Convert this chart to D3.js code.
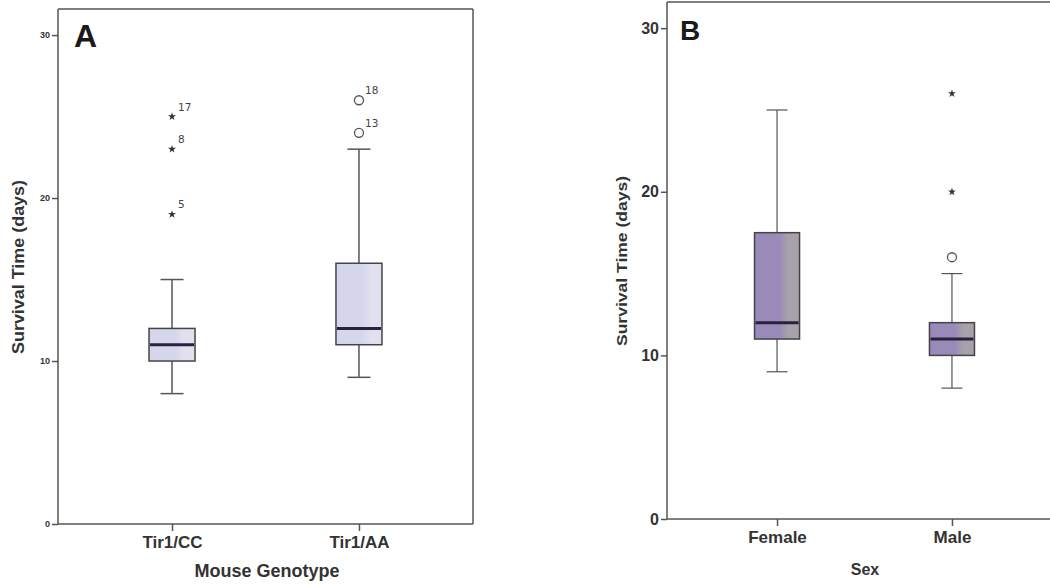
<!DOCTYPE html>
<html>
<head>
<meta charset="utf-8">
<script src="https://cdn.jsdelivr.net/npm/d3@7"></script>
<style>
  body { margin: 0; background: #fff; }
  svg { display: block; font-family: "Liberation Sans", Arial, sans-serif; }
</style>
</head>
<body>
<div id="chart"></div>
<script>
// Panel A: survival by mouse genotype
const genotypes = ["Tir1/CC", "Tir1/AA"];
const genoMin = [8, 9];
const genoQ1 = [10, 11];
const genoMedian = [11, 12];
const genoQ3 = [12, 16];
const genoMax = [15, 23];
const genoOutliers = [
    {cat: "Tir1/CC", value: 19, label: "5", kind: "star"},
    {cat: "Tir1/CC", value: 23, label: "8", kind: "star"},
    {cat: "Tir1/CC", value: 25, label: "17", kind: "star"},
    {cat: "Tir1/AA", value: 24, label: "13", kind: "circle"},
    {cat: "Tir1/AA", value: 26, label: "18", kind: "circle"}
];

// Panel B: survival by sex
const sexes = ["Female", "Male"];
const sexMin = [9, 8];
const sexQ1 = [11, 10];
const sexMedian = [12, 11];
const sexQ3 = [17.5, 12];
const sexMax = [25, 15];
const sexOutliers = [
    {cat: "Male", value: 16, label: "", kind: "circle"},
    {cat: "Male", value: 20, label: "", kind: "star"},
    {cat: "Male", value: 26, label: "", kind: "star"}
];

const yTicks = [0, 10, 20, 30];

const svg = d3.select("#chart")
    .append("svg")
    .attr("width", 1050)
    .attr("height", 585);

const defs = svg.append("defs");

function addGradient(id, left, right) {
    const g = defs.append("linearGradient")
        .attr("id", id)
        .attr("x1", "0%").attr("x2", "100%")
        .attr("y1", "0%").attr("y2", "0%");
    g.append("stop").attr("offset", "0%").attr("stop-color", left);
    g.append("stop").attr("offset", "55%").attr("stop-color", left);
    g.append("stop").attr("offset", "75%").attr("stop-color", right);
    g.append("stop").attr("offset", "100%").attr("stop-color", right);
}
addGradient("fillA", "#d5d5ec", "#e0e0ef");
addGradient("fillB", "#9a8aba", "#a6a1ab");

function drawPanel(p) {
    const g = svg.append("g");

    const y = d3.scaleLinear()
        .domain([0, 31.6])
        .range([p.bottom, p.top]);

    const x = d3.scalePoint()
        .domain(p.cats)
        .range([p.left, p.right])
        .padding(p.pad);

    const stats = p.cats.map((c, i) => ({
        cat: c, min: p.min[i], q1: p.q1[i], median: p.median[i], q3: p.q3[i], max: p.max[i]
    }));

    // frame
    const frame = g.append("g")
        .attr("stroke", "#555")
        .attr("stroke-width", 1.5)
        .attr("fill", "none");
    frame.append("line").attr("x1", p.left).attr("x2", p.left).attr("y1", p.top).attr("y2", p.bottom);
    frame.append("line").attr("x1", p.left).attr("x2", p.frameRight).attr("y1", p.top).attr("y2", p.top);
    frame.append("line").attr("x1", p.left).attr("x2", p.frameRight).attr("y1", p.bottom).attr("y2", p.bottom);
    if (p.closed) {
        frame.append("line").attr("x1", p.frameRight).attr("x2", p.frameRight).attr("y1", p.top).attr("y2", p.bottom);
    }

    // y axis
    const yAxis = g.append("g")
        .attr("transform", `translate(${p.left},0)`)
        .call(d3.axisLeft(y).tickValues(yTicks).tickSize(6).tickPadding(2));
    yAxis.select(".domain").remove();
    yAxis.selectAll("line").attr("stroke", "#555").attr("stroke-width", 1.5);
    yAxis.selectAll("text")
        .attr("fill", "#333")
        .style("font-size", p.tickFont + "px")
        .style("font-weight", "bold");

    // x axis
    const xAxis = g.append("g")
        .attr("transform", `translate(0,${p.bottom})`)
        .call(d3.axisBottom(x).tickSize(7).tickPadding(5));
    xAxis.select(".domain").remove();
    xAxis.selectAll("line").attr("stroke", "#555").attr("stroke-width", 1.5);
    xAxis.selectAll("text")
        .attr("fill", "#333")
        .style("font-size", p.catFont + "px")
        .style("font-weight", "bold");

    // whiskers
    const boxes = g.selectAll(".box")
        .data(stats)
        .enter().append("g")
        .attr("class", "box");

    boxes.append("line")
        .attr("x1", d => x(d.cat)).attr("x2", d => x(d.cat))
        .attr("y1", d => y(d.min)).attr("y2", d => y(d.max))
        .attr("stroke", "#555").attr("stroke-width", p.whiskerWidth);

    boxes.selectAll(".cap")
        .data(d => [{cat: d.cat, v: d.min}, {cat: d.cat, v: d.max}])
        .enter().append("line")
        .attr("x1", d => x(d.cat) - p.capWidth / 2)
        .attr("x2", d => x(d.cat) + p.capWidth / 2)
        .attr("y1", d => y(d.v)).attr("y2", d => y(d.v))
        .attr("stroke", "#555").attr("stroke-width", p.whiskerWidth);

    boxes.append("rect")
        .attr("x", d => x(d.cat) - p.boxWidth / 2)
        .attr("width", p.boxWidth)
        .attr("y", d => y(d.q3))
        .attr("height", d => y(d.q1) - y(d.q3))
        .attr("fill", `url(#${p.fill})`)
        .attr("stroke", "#444")
        .attr("stroke-width", 1.5);

    boxes.append("line")
        .attr("x1", d => x(d.cat) - p.boxWidth / 2 + 1)
        .attr("x2", d => x(d.cat) + p.boxWidth / 2 - 1)
        .attr("y1", d => y(d.median)).attr("y2", d => y(d.median))
        .attr("stroke", "#2a2140").attr("stroke-width", 3);

    // outliers
    const out = g.selectAll(".outlier")
        .data(p.outliers)
        .enter().append("g")
        .attr("class", "outlier")
        .attr("transform", d => `translate(${x(d.cat)},${y(d.value)})`);

    out.filter(d => d.kind === "circle")
        .append("circle")
        .attr("r", 4.5)
        .attr("fill", "#fff")
        .attr("stroke", "#555")
        .attr("stroke-width", 1.3);

    out.filter(d => d.kind === "star")
        .append("path")
        .attr("d", d3.symbol().type(d3.symbolStar).size(20))
        .attr("fill", "#333");

    out.append("text")
        .attr("x", 6)
        .attr("y", -6)
        .style("font-family", "'DejaVu Sans', sans-serif")
        .style("font-size", "10.5px")
        .attr("fill", "#444")
        .text(d => d.label);

    // panel letter
    g.append("text")
        .attr("x", p.letterX)
        .attr("y", p.letterY)
        .style("font-size", p.letterFont + "px")
        .style("font-weight", "bold")
        .attr("fill", "#1a1a1a")
        .text(p.letter);

    // titles
    g.append("text")
        .attr("transform", `translate(${p.yTitleX},${p.yTitleY}) rotate(-90)`)
        .attr("text-anchor", "middle")
        .attr("textLength", p.yTitleLength)
        .attr("lengthAdjust", "spacingAndGlyphs")
        .style("font-size", p.titleFont + "px")
        .style("font-weight", "bold")
        .attr("fill", "#333")
        .text("Survival Time (days)");

    g.append("text")
        .attr("x", p.xTitleX)
        .attr("y", p.xTitleY)
        .attr("text-anchor", "middle")
        .style("font-size", p.xTitleFont + "px")
        .style("font-weight", "bold")
        .attr("fill", "#333")
        .text(p.xTitle);
}

drawPanel({
    cats: genotypes, min: genoMin, q1: genoQ1, median: genoMedian, q3: genoQ3, max: genoMax,
    outliers: genoOutliers,
    left: 58, right: 473, frameRight: 473, top: 9, bottom: 524, pad: 0.61, closed: true,
    boxWidth: 46, capWidth: 23, whiskerWidth: 1.5, fill: "fillA",
    tickFont: 9, catFont: 17, titleFont: 16, xTitleFont: 18,
    letter: "A", letterX: 74, letterY: 47, letterFont: 32,
    yTitleX: 24, yTitleY: 267, yTitleLength: 174,
    xTitle: "Mouse Genotype", xTitleX: 267, xTitleY: 577
});

drawPanel({
    cats: sexes, min: sexMin, q1: sexQ1, median: sexMedian, q3: sexQ3, max: sexMax,
    outliers: sexOutliers,
    left: 667, right: 1062, frameRight: 1050, top: 2, bottom: 519, pad: 0.629, closed: false,
    boxWidth: 45, capWidth: 21, whiskerWidth: 1.2, fill: "fillB",
    tickFont: 16, catFont: 17, titleFont: 14, xTitleFont: 16,
    letter: "B", letterX: 680, letterY: 40, letterFont: 28,
    yTitleX: 627, yTitleY: 261, yTitleLength: 170,
    xTitle: "Sex", xTitleX: 865, xTitleY: 575
});
</script>
</body>
</html>
